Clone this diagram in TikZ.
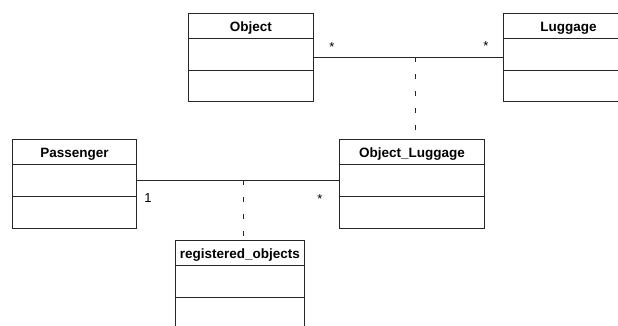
\documentclass[tikz,border=0pt]{standalone}
\usepackage{fontspec}
\setmainfont{Liberation Sans}
\usetikzlibrary{calc}

\begin{document}
\begin{tikzpicture}[x=1pt, y=-1pt,
	classbox/.style = {draw = black!85, line width = 0.8pt, inner sep = 0pt},
	classname/.style = {anchor = base, font = \fontsize{13.5}{15}\selectfont\bfseries},
	mult/.style = {anchor = base, font = \fontsize{13}{15}\selectfont},
	assoc/.style = {draw = black!85, line width = 0.8pt},
	assocclass/.style = {assoc, dash pattern = on 5pt off 12pt}]
	\useasboundingbox (0, 0) rectangle (618, 325);

	% classes: name / left / top / width / height / title
	\foreach \name/\x/\y/\w/\h/\txt in {object/188/13/125/88/Object, luggage/503/13/130/88/Luggage,
			passenger/12/139/124/89/Passenger, objlug/339/139/145/89/Object\_Luggage,
			regobj/175/240/129/88/registered\_objects} {
			\node[classbox, minimum width = \w pt, minimum height = \h pt, anchor = north west] (\name) at (\x, \y) {};
			\node[classname] (\name-title) at ($(\name.north) + (0, 18.5)$) {\txt};
			\draw[assoc] ([yshift = -25pt]\name.north west) -- ([yshift = -25pt]\name.north east);
			\draw[assoc] ([yshift = -57pt]\name.north west) -- ([yshift = -57pt]\name.north east);
		}

	% Object -- Luggage with association class Object_Luggage
	\draw[assoc] (object.east) -- (luggage.west);
	\node[mult] (object-mult) at (332, 51) {*};
	\node[mult] (luggage-mult) at (486, 50) {*};
	\coordinate (objlug-link) at (415, 57);
	\draw[assocclass] (objlug-link) -- (objlug-link |- objlug.north);

	% Passenger -- Object_Luggage with association class registered_objects
	\draw[assoc] ([yshift = 3.5pt]passenger.east) -- ([yshift = 3.5pt]objlug.west);
	\node[mult] (passenger-mult) at (148, 202) {1};
	\node[mult] (objlug-mult) at (320, 203) {*};
	\coordinate (regobj-link) at (243, 180);
	\draw[assocclass] (regobj-link) -- (regobj-link |- regobj.north);
\end{tikzpicture}
\end{document}
